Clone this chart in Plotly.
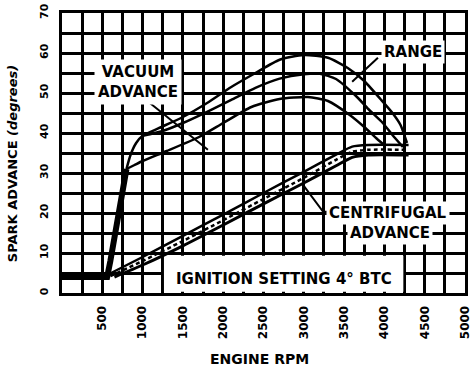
import plotly.graph_objects as go

# values: engine rpm vs spark advance (degrees)
vac_base_rpm = [0, 560, 600, 650, 700, 750, 800]
vac_base_deg = [4, 4, 8, 14, 21, 27, 31]

vac_hi_rpm = [800, 850, 920, 1000, 1200, 1500, 1800, 2100, 2400, 2700, 3000, 3300, 3550, 3750, 3950, 4100, 4200, 4280]
vac_hi_deg = [31, 34.5, 37.5, 39.3, 41.2, 44, 47.5, 51.5, 55, 58.3, 59.5, 58.8, 56.2, 53, 48.5, 45, 42, 37.5]

vac_mid_rpm = [1000, 1250, 1500, 1800, 2100, 2400, 2700, 3000, 3200, 3400, 3660, 3800, 3980, 4100, 4230]
vac_mid_deg = [39.3, 40.5, 42.5, 45.3, 48.3, 51.3, 53.6, 54.7, 54.8, 53.5, 49, 46, 42.5, 39.5, 36.5]

vac_lo_rpm = [800, 900, 1000, 1300, 1700, 2000, 2350, 2700, 3050, 3300, 3570, 3750, 3910, 4000]
vac_lo_deg = [31, 32, 33, 35.5, 39, 42.5, 46.5, 48.5, 49, 48, 44.5, 41.5, 38.5, 37]

cen_hi_rpm = [560, 1000, 1500, 2000, 2500, 3000, 3400, 3600, 3800, 4300]
cen_hi_deg = [4.5, 9, 14.3, 19.6, 25, 30.3, 34.6, 36.6, 37, 37]

cen_mid_rpm = [600, 1000, 1500, 2000, 2500, 3000, 3400, 3600, 3800, 4300]
cen_mid_deg = [4.2, 8, 13, 18.2, 23.5, 28.8, 33.3, 35.3, 35.8, 35.8]

cen_lo_rpm = [650, 1000, 1500, 2000, 2500, 3000, 3400, 3600, 3800, 4300]
cen_lo_deg = [4, 7, 11.8, 17, 22.3, 27.5, 31.8, 33.9, 34.5, 34.5]

# leader lines from the labels
vac_ptr_rpm = [1090, 1810]
vac_ptr_deg = [47.5, 35.8]
range_ptr_rpm = [3920, 3600]
range_ptr_deg = [58.8, 52.8]
cen_ptr_rpm = [3000, 3240, 3290]
cen_ptr_deg = [26.8, 20.3, 20.3]

x_ticks = [500, 1000, 1500, 2000, 2500, 3000, 3500, 4000, 4500, 5000]
y_ticks = [0, 10, 20, 30, 40, 50, 60, 70]

FONT = "DejaVu Sans"

fig = go.Figure()


def add_line(x, y, width=2.5, dash="solid", shape="spline"):
    fig.add_trace(go.Scatter(x=x, y=y, mode="lines", line=dict(color="black", width=width, dash=dash, shape=shape, smoothing=0.6),
                             showlegend=False, hoverinfo="skip"))


# ignition setting box masks the grid
fig.add_shape(type="rect", x0=1265, x1=4235, y0=0.3, y1=9.3, fillcolor="white", line_width=0, layer="between")

add_line(vac_base_rpm, vac_base_deg, width=6, shape="linear")
add_line(vac_hi_rpm, vac_hi_deg)
add_line(vac_mid_rpm, vac_mid_deg)
add_line(vac_lo_rpm, vac_lo_deg)
add_line(cen_hi_rpm, cen_hi_deg)
add_line(cen_mid_rpm, cen_mid_deg, dash="4px,3px")
add_line(cen_lo_rpm, cen_lo_deg, width=3)
add_line(vac_ptr_rpm, vac_ptr_deg, width=2, shape="linear")
add_line(range_ptr_rpm, range_ptr_deg, width=2, shape="linear")
add_line(cen_ptr_rpm, cen_ptr_deg, width=2, shape="linear")

lab = dict(family=FONT, size=15, color="black", weight="bold")
fig.add_annotation(x=940, y=52.7, text="VACUUM<br>ADVANCE", showarrow=False, font=lab, bgcolor="white", borderpad=3)
fig.add_annotation(x=4360, y=60.2, text="RANGE", showarrow=False, font=lab, bgcolor="white", borderpad=2)
fig.add_annotation(x=4050, y=20, text="CENTRIFUGAL", showarrow=False, font=lab, bgcolor="white", borderpad=2)
fig.add_annotation(x=4070, y=15, text="ADVANCE", showarrow=False, font=lab, bgcolor="white", borderpad=2)
fig.add_annotation(x=2750, y=3.4, text="IGNITION SETTING 4° BTC", showarrow=False, font=lab)

fig.add_annotation(x=-0.124, y=0.46, xref="paper", yref="paper", xanchor="center", textangle=-90, showarrow=False,
                   text="SPARK ADVANCE <i>(degrees)</i>", font=dict(family=FONT, size=13, color="black", weight="bold"))
fig.add_annotation(x=0.49, y=-0.235, xref="paper", yref="paper", yanchor="middle", showarrow=False,
                   text="ENGINE RPM", font=dict(family=FONT, size=14, color="black", weight="bold"))

fig.update_xaxes(range=[0, 5000], tickvals=x_ticks, tickangle=-90, ticklabelstandoff=5, automargin=False,
                 tickfont=dict(family=FONT, size=12, color="black", weight="bold"),
                 showgrid=True, gridcolor="black", gridwidth=2.5,
                 minor=dict(dtick=250, tick0=0, showgrid=True, gridcolor="black", gridwidth=2.5),
                 showline=True, linecolor="black", linewidth=3, mirror=True, zeroline=False)
fig.update_yaxes(range=[0, 70], tickvals=y_ticks, tickangle=-90, ticklabelstandoff=7, automargin=False,
                 tickfont=dict(family=FONT, size=11, color="black", weight="bold"),
                 showgrid=True, gridcolor="black", gridwidth=2.5,
                 minor=dict(dtick=5, tick0=0, showgrid=True, gridcolor="black", gridwidth=2.5),
                 showline=True, linecolor="black", linewidth=3, mirror=True, zeroline=False)

fig.update_layout(width=473, height=369, margin=dict(l=62, r=8, t=13, b=76),
                  paper_bgcolor="white", plot_bgcolor="white", showlegend=False)

# drop the browser's default page margin so the figure sits at the window corner
fig.write_html("out.html", config={"displayModeBar": False}, post_script="document.body.style.margin='0';")
